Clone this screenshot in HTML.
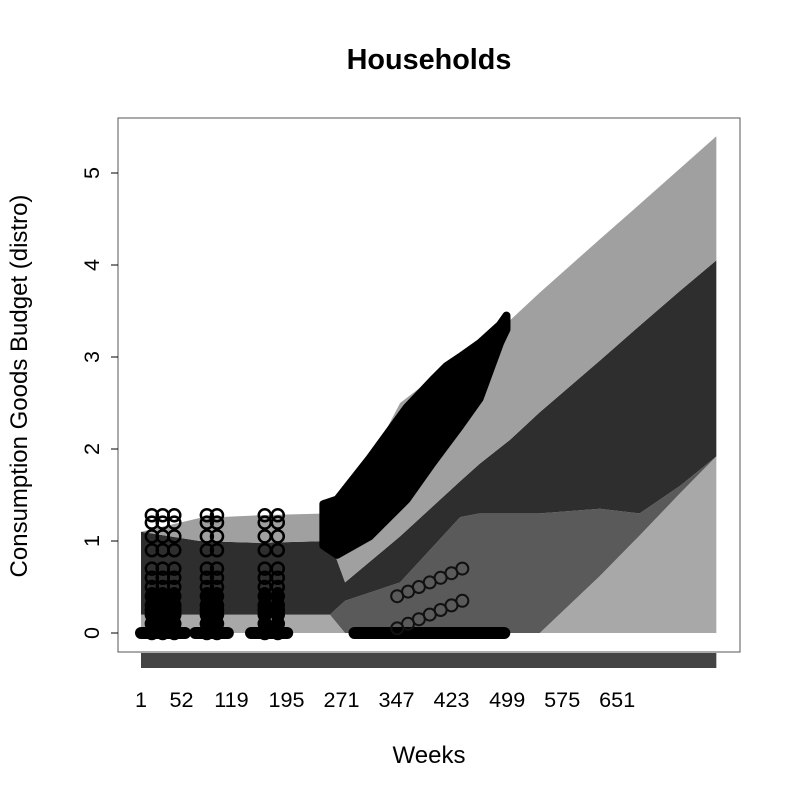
<!DOCTYPE html>
<html><head><meta charset="utf-8"><style>
body{margin:0;background:#fff;}
svg{display:block;font-family:"Liberation Sans",sans-serif;}
</style></head><body>
<svg id="chart" width="800" height="800" viewBox="0 0 800 800">
<rect width="800" height="800" fill="#fff"/>
<text x="429" y="69" font-size="28.8" font-weight="bold" text-anchor="middle">Households</text>
<text x="429" y="763" font-size="24" text-anchor="middle">Weeks</text>
<text x="0" y="0" font-size="24" text-anchor="middle" transform="translate(27,386) rotate(-90)">Consumption Goods Budget (distro)</text>
<g id="marks"></g>
<rect x="118" y="118" width="622" height="534" fill="none" stroke="#555" stroke-width="1"/>
<g id="axes"></g>
</svg>
<script>
const weeks   = [1,   82,  165, 262, 283, 359, 442, 469, 511, 552, 635, 690, 746, 796];
const whiskTop= [1.1, 1.25,1.28,1.3, 1.35,2.5, 3.0, 3.15,3.4, 3.7, 4.28,4.66,5.05,5.4];
const q3      = [1.1, 1.0, 0.98,1.0, 0.55,1.05,1.65,1.84,2.1, 2.4, 2.96,3.34,3.72,4.05];
const q1      = [0.2, 0.2, 0.2, 0.2, 0.35,0.55,1.26,1.3, 1.3, 1.3, 1.35,1.3, 1.6, 1.92];
const lowEdge = [0.2, 0.2, 0.2, 0.2, 0,   0,   0,   0,   0,   0,   0.62,1.06,1.52,1.92];
const blobWeeks=[253,272,317,368,404,423,442,469,497,506];
const blobLow  =[0.95,0.85,1.05,1.45,1.85,2.05,2.25,2.55,3.15,3.3];
const blobHigh =[1.4,1.45,1.9,2.45,2.75,2.9,3.0,3.15,3.35,3.45];
const outlierCols=[16,31,47,92,106,172,190];
const outlierVals=[0,0.1,0.2,0.25,0.3,0.4,0.5,0.6,0.7,0.9,1.05,1.2,1.28];
const zeroRuns=[[1,62],[76,121],[153,203],[296,503]];
const midOutWeeks=[355,370,385,400,415,430,445];
const midOutA=[0.4,0.45,0.5,0.55,0.6,0.65,0.7];
const midOutB=[0.05,0.1,0.15,0.2,0.25,0.3,0.35];
const yTicks=[0,1,2,3,4,5];
const xLabels=["1","52","119","195","271","347","423","499","575","651"];
const xLabelWeeks=[1,57,126,202,278,354,430,507,583,659];
const NS="http://www.w3.org/2000/svg";
const X=w=>141+(w-1)*0.7237;
const Y=v=>633-92*v;
const marks=document.getElementById('marks'),axes=document.getElementById('axes');
function mk(tag,attrs,parent){const e=document.createElementNS(NS,tag);for(const k in attrs)e.setAttribute(k,attrs[k]);parent.appendChild(e);return e;}
function band(up,lo){let p=weeks.map((w,i)=>X(w)+","+Y(up[i]));for(let i=weeks.length-1;i>=0;i--)p.push(X(weeks[i])+","+Y(lo[i]));return p.join(" ");}
const zeros=weeks.map(()=>0);
let e;
e=mk('polygon',{points:band(lowEdge,zeros),fill:'#a8a8a8'},marks);


e=mk('polygon',{points:band(q1,lowEdge),fill:'#5a5a5a'},marks);


e=mk('polygon',{points:band(q3,q1),fill:'#2e2e2e'},marks);


e=mk('polygon',{points:band(whiskTop,q3),fill:'#a0a0a0'},marks);


{let p=blobWeeks.map((w,i)=>X(w)+","+Y(blobHigh[i]));for(let i=blobWeeks.length-1;i>=0;i--)p.push(X(blobWeeks[i])+","+Y(blobLow[i]));
e=mk('polygon',{points:p.join(" "),fill:'#000',stroke:'#000','stroke-width':8,'stroke-linejoin':'round'},marks);

}
outlierCols.forEach(w=>{
  e=mk('rect',{x:X(w)-6,y:Y(0.5),width:12,height:92*0.5,rx:6,fill:'#000'},marks);
  
  
  outlierVals.forEach(v=>{
    e=mk('circle',{cx:X(w),cy:Y(v),r:6,fill:'none',stroke:'#000','stroke-width':2.5},marks);
    
    
  });
});
zeroRuns.forEach(r=>{
  e=mk('line',{x1:X(r[0]),x2:X(r[1]),y1:Y(0),y2:Y(0),stroke:'#000','stroke-width':12,'stroke-linecap':'round'},marks);
  
  
});
midOutWeeks.forEach((w,i)=>{
  [midOutA[i],midOutB[i]].forEach(v=>{
    e=mk('circle',{cx:X(w),cy:Y(v),r:6,fill:'none',stroke:'#111','stroke-width':2},marks);
    
    
  });
});
e=mk('rect',{x:X(1),y:653,width:X(weeks[weeks.length-1])-X(1),height:15,fill:'#444'},axes);


yTicks.forEach(t=>{
  e=mk('line',{x1:111,x2:118,y1:Y(t),y2:Y(t),stroke:'#000'},axes);
  
  
  e=mk('text',{transform:`translate(99,${Y(t)}) rotate(-90)`,'font-size':21.6,'text-anchor':'middle'},axes);
  e.textContent=t;
  
  
});
xLabels.forEach((l,i)=>{
  e=mk('text',{x:X(xLabelWeeks[i]),y:707,'font-size':21.6,'text-anchor':'middle'},axes);
  e.textContent=l;
  
  
});
</script>
</body></html>
